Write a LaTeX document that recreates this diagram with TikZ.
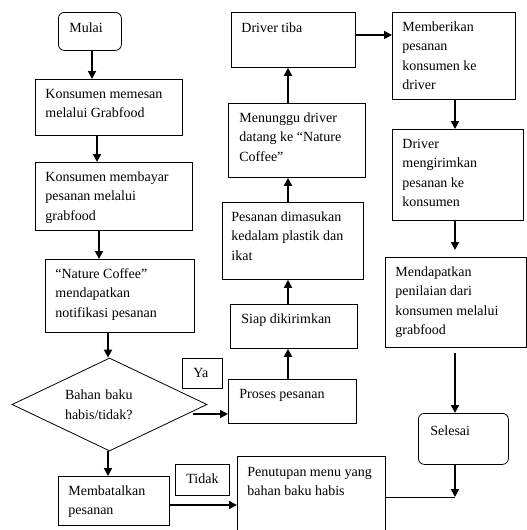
\documentclass[tikz,border=0pt]{standalone}
\usepackage{fontspec}
\setmainfont{Liberation Serif}
\usetikzlibrary{shapes.geometric,arrows.meta}
\newcommand\bx[5]{\vbox to #2{\hsize=#1\relax\parindent=0pt\leftskip=#3\relax\rightskip=0pt plus 1fil\relax\baselineskip=19.5pt\relax\noindent\vrule height #4 depth 0pt width 0pt\ignorespaces #5\par\vfil}}
\begin{document}
\begin{tikzpicture}[x=1pt,y=-1pt,
  every node/.style={font=\fontsize{14}{19.5}\selectfont},
  box/.style={draw, line width=0.8pt, inner sep=0pt, anchor=north west},
  rbox/.style={box, rounded corners=6pt},
  arr/.style={line width=1.7pt, -{Triangle[length=8pt,width=8pt]}},
  thinline/.style={line width=0.8pt}]
\useasboundingbox (0,0) rectangle (527,530);
\clip (0,0) rectangle (527,530);
% left column
\node[rbox] (mulai) at (58,12) {\bx{63pt}{38pt}{11pt}{20pt}{Mulai}};
\node[box] (k1) at (35,79) {\bx{147pt}{56pt}{10pt}{19pt}{Konsumen memesan\\melalui Grabfood}};
\node[box] (k2) at (35,162) {\bx{157pt}{68pt}{10pt}{19pt}{Konsumen membayar\\pesanan melalui\\grabfood}};
\node[box] (nc) at (45,259) {\bx{149pt}{73pt}{10pt}{19pt}{“Nature Coffee”\\mendapatkan\\notifikasi pesanan}};
\node[draw, diamond, line width=0.8pt, minimum width=195pt, minimum height=93pt, inner sep=0pt, aspect=2, text width=89pt, align=left] (dia) at (109.5,404.5) {Bahan baku\\habis/tidak?};
\node[box] (ya) at (182,358) {\bx{40pt}{30pt}{11pt}{19pt}{Ya}};
\node[box] (bat) at (58,476) {\bx{111pt}{49pt}{10pt}{19pt}{Membatalkan\\pesanan}};
\node[box] (tidak) at (175,464) {\bx{54pt}{31pt}{11pt}{19pt}{Tidak}};
\node[box] (pen) at (237,456) {\bx{148pt}{90pt}{10pt}{20pt}{Penutupan menu yang\\bahan baku habis}};
% middle column
\node[box] (proses) at (228,379) {\bx{128pt}{44pt}{11pt}{19pt}{Proses pesanan}};
\node[box] (siap) at (230,304) {\bx{127pt}{44pt}{11pt}{19pt}{Siap dikirimkan}};
\node[box] (pes) at (222,202) {\bx{141pt}{77pt}{9pt}{19pt}{Pesanan dimasukan\\kedalam plastik dan\\ikat}};
\node[box] (men) at (228,103) {\bx{137pt}{74pt}{11pt}{19pt}{Menunggu driver\\datang ke “Nature\\Coffee”}};
\node[box] (drv) at (231,12) {\bx{124pt}{55pt}{10pt}{20pt}{Driver tiba}};
% right column
\node[box] (mem) at (392,12) {\bx{123pt}{87pt}{10pt}{19pt}{Memberikan\\pesanan\\konsumen ke\\driver}};
\node[box] (dm) at (392,129) {\bx{131pt}{91pt}{10pt}{19pt}{Driver\\mengirimkan\\pesanan ke\\konsumen}};
\node[box] (md) at (385,257) {\bx{141pt}{90pt}{10pt}{19pt}{Mendapatkan\\penilaian dari\\konsumen melalui\\grabfood}};
\node[rbox] (sel) at (418,413) {\bx{90pt}{51pt}{12pt}{22pt}{Selesai}};
% helper coordinates
\coordinate (x92) at (92,0);
\coordinate (x97) at (97,0);
\coordinate (x99) at (99,0);
\coordinate (x108) at (108,0);
\coordinate (x288) at (288,0);
\coordinate (x455) at (455,0);
\coordinate (y35) at (0,35);
\coordinate (y505) at (0,505);
\coordinate (yastart) at (193,414);
\coordinate (j) at (455,497);
% connectors
\draw[arr] (x92 |- mulai.south) -- (x92 |- k1.north);
\draw[arr] (x97 |- k1.south) -- (x97 |- k2.north);
\draw[arr] (x99 |- k2.south) -- (x99 |- nc.north);
\draw[arr] (x108 |- nc.south) -- (x108 |- dia.north);
\draw[arr] (yastart) -- (yastart -| proses.west);
\draw[arr] (x108 |- dia.south) -- (x108 |- bat.north);
\draw[arr] (bat.east |- y505) -- (pen.west |- y505);
\draw[arr] (x288 |- proses.north) -- (x288 |- siap.south);
\draw[arr] (x288 |- siap.north) -- (x288 |- pes.south);
\draw[arr] (x288 |- pes.north) -- (x288 |- men.south);
\draw[arr] (x288 |- men.north) -- (x288 |- drv.south);
\draw[arr] (drv.east |- y35) -- (mem.west |- y35);
\draw[arr] (x455 |- mem.south) -- (x455 |- dm.north);
\draw[arr, shorten >=7pt] (x455 |- dm.south) -- (x455 |- md.north);
\draw[arr, shorten <=5pt] (x455 |- md.south) -- (x455 |- sel.north);
\draw[arr] (j |- sel.south) -- (j);
\draw[thinline] (pen.east |- j) -- (j);
\end{tikzpicture}
\end{document}
